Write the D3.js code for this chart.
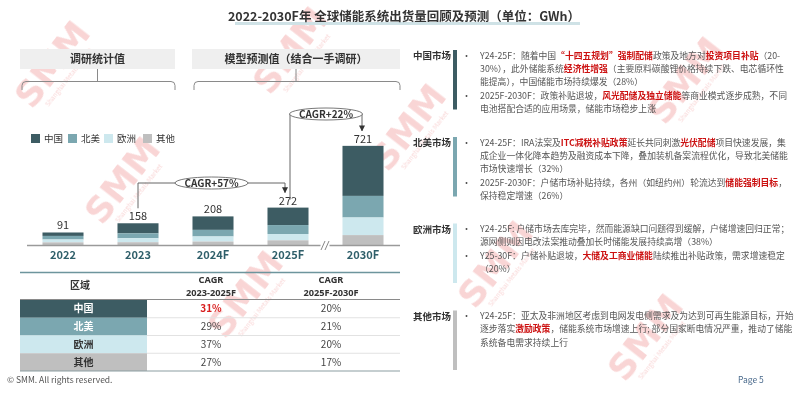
<!DOCTYPE html>
<html><head><meta charset="utf-8">
<script src="https://cdn.jsdelivr.net/npm/d3@7"></script>
<style>
html,body{margin:0;padding:0;background:#fff;}
svg{display:block;font-family:"Noto Sans CJK SC","Noto Sans",sans-serif;}
</style></head>
<body>
<svg id="c" width="800" height="396"></svg>
<script>
// ---------- data ----------
const years = ["2022","2023","2024F","2025F","2030F"];
const regions = ["中国","北美","欧洲","其他"];
const china = [25,73,98,127,364];
const northAmerica = [26,36,48,65,157];
const europe = [21,29,37,46,128];
const others = [19,20,25,34,72];
const totals = [91,158,208,272,721];
const cagrLabels = ["CAGR+57%","CAGR+22%"];
const cagr2325 = ["31%","29%","37%","27%"];
const cagr2530 = ["20%","21%","20%","17%"];
const tableHeader = ["区域","CAGR|2023-2025F","CAGR|2025F-2030F"];
const markets = ["中国市场","北美市场","欧洲市场","其他市场"];
const marketLines = [
 ["•Y24-25F：随着中国[“十四五规划”][强制配储]政策及地方对[投资项目补贴]（20-",
  "30%），此外储能系统[经济性增强]（主要原料碳酸锂价格持续下跌、电芯循环性",
  "能提高），中国储能市场持续爆发（28%）",
  "•2025F-2030F：政策补贴退坡，[风光配储及独立储能]等商业模式逐步成熟，不同",
  "电池搭配合适的应用场景，储能市场稳步上涨"],
 ["•Y24-25F：IRA法案及[ITC减税补贴政策]延长共同刺激[光伏配储]项目快速发展，集",
  "成企业一体化降本趋势及融资成本下降，叠加装机备案流程优化，导致北美储能",
  "市场快速增长（32%）",
  "•2025F-2030F：户储市场补贴持续，各州（如纽约州）轮流达到[储能强制目标]，",
  "保持稳定增速（26%）"],
 ["•Y24-25F: 户储市场去库完毕，然而能源缺口问题得到缓解，户储增速回归正常；",
  "源网侧则因电改法案推动叠加长时储能发展持续高增（38%）",
  "•Y25-30F：户储补贴退坡，[大储及工商业储能]陆续推出补贴政策，需求增速稳定",
  "（20%）"],
 ["•Y24-25F：亚太及非洲地区考虑到电网发电侧需求及为达到可再生能源目标，开始",
  "逐步落实[激励政策]，储能系统市场增速上行; 部分国家断电情况严重，推动了储能",
  "系统备电需求持续上行"]
];
const colors = ["#3d5c63","#7ba7b0","#cde8ee","#bfbfbf"];
const series = [china, northAmerica, europe, others];

const svg = d3.select("#c");

// ---------- watermarks (behind) ----------
const wm = [[62,72],[132,188],[255,302],[418,135],[695,88],[505,272],[655,345],[300,58]];
const wmG = svg.append("g").attr("opacity",0.2);
wm.forEach(([x,y])=>{
  const g = wmG.append("g").attr("transform",`translate(${x},${y}) rotate(-52)`);
  g.append("text").attr("text-anchor","middle").attr("font-size",36).attr("font-weight",900)
   .attr("fill","#e03030").attr("font-family","DejaVu Sans").text("SMM");
  g.append("text").attr("text-anchor","middle").attr("y",11).attr("font-size",6.5)
   .attr("fill","#e03030").text("Shanghai Metals Market");
});

// ---------- title ----------
svg.append("rect").attr("x",235).attr("y",22).attr("width",345).attr("height",3).attr("fill","#cfe2e6");
svg.append("text").attr("x",404).attr("y",21).attr("text-anchor","middle").attr("font-size",12.5)
  .attr("font-weight",700).attr("fill","#333").text("2022-2030F年 全球储能系统出货量回顾及预测（单位：GWh）");

// ---------- headers & brackets ----------
const heads = [["调研统计值",20,175],["模型预测值（结合一手调研）",192,400]];
heads.forEach(([t,x0,x1])=>{
  svg.append("rect").attr("x",x0).attr("y",49).attr("width",x1-x0).attr("height",20).attr("fill","#efefef");
  svg.append("text").attr("x",(x0+x1)/2).attr("y",63).attr("text-anchor","middle").attr("font-size",11)
    .attr("font-weight",700).attr("fill","#333").text(t);
  const cx=(x0+x1)/2, a=x0+2, b=x1;
  svg.append("path").attr("d",`M${cx},69V81.5 M${a},90V85.5Q${a},81.5 ${a+4},81.5H${b-4}Q${b},81.5 ${b},85.5V90`)
    .attr("fill","none").attr("stroke","#8a8a8a").attr("stroke-width",1);
});

// ---------- bar chart ----------
const x = d3.scaleBand().domain(years).range([25.5,400.5]).paddingInner(0.453).paddingOuter(0.2265);
const y = d3.scaleLinear().domain([0,800]).range([245,135]);
const stackData = years.map((yr,i)=>{const o={year:yr}; regions.forEach((r,k)=>o[r]=series[k][i]); return o;});
const stacked = d3.stack().keys(regions).order(d3.stackOrderReverse)(stackData);
const layers = svg.append("g");
stacked.forEach((layer)=>{
  const k = regions.indexOf(layer.key);
  layers.selectAll(null).data(layer).enter().append("rect")
    .attr("x",d=>x(d.data.year)).attr("width",x.bandwidth())
    .attr("y",d=>y(d[1])).attr("height",d=>y(d[0])-y(d[1])).attr("fill",colors[k]);
});
// baseline
svg.append("line").attr("x1",27).attr("x2",400).attr("y1",245.5).attr("y2",245.5).attr("stroke","#9a9a9a").attr("stroke-width",1.5);
// axis break
const bx = (x("2025F")+x.bandwidth()+x("2030F"))/2;
svg.append("rect").attr("x",bx-5).attr("y",240).attr("width",9).attr("height",11).attr("fill","#fff");
[-2.5,1.5].forEach(o=>svg.append("line").attr("x1",bx+o-2).attr("x2",bx+o+2).attr("y1",250).attr("y2",241).attr("stroke","#888").attr("stroke-width",1));
// x labels
const xAxis = svg.append("g").attr("transform","translate(0,245)")
  .call(d3.axisBottom(x).tickSize(0).tickPadding(6));
xAxis.select(".domain").remove();
xAxis.selectAll("text").attr("font-size",11).attr("font-weight",700).attr("fill","#2f5f6a")
  .attr("font-family","'Noto Sans CJK SC','Noto Sans',sans-serif");
// totals
svg.selectAll(null).data(years).enter().append("text")
  .attr("x",d=>x(d)+x.bandwidth()/2).attr("y",(d,i)=>y(totals[i])-3).attr("text-anchor","middle")
  .attr("font-size",11).attr("fill","#333").text((d,i)=>totals[i]);
// legend
const lx=[31,68,104,143];
regions.forEach((r,k)=>{
  svg.append("rect").attr("x",lx[k]).attr("y",134).attr("width",9).attr("height",9).attr("fill",colors[k]);
  svg.append("text").attr("x",lx[k]+13).attr("y",142).attr("font-size",9.5).attr("fill","#333").text(r);
});
// CAGR annotations
svg.append("defs").append("marker").attr("id","ar").attr("viewBox","0 0 10 10").attr("refX",9).attr("refY",5)
  .attr("markerWidth",6).attr("markerHeight",6).attr("orient","auto")
  .append("path").attr("d","M0,0L10,5L0,10z").attr("fill","#333");
function cagrArrow(c0,ys,c1,ye,yl,label){
  svg.append("path").attr("d",`M${c0},${ys}V${yl}H${c1}V${ye}`).attr("fill","none")
    .attr("stroke","#666").attr("stroke-width",1).attr("marker-end","url(#ar)");
  const mx=(c0+c1)/2;
  svg.append("ellipse").attr("cx",mx).attr("cy",yl).attr("rx",36.5).attr("ry",6).attr("fill","#fff").attr("stroke","#555").attr("stroke-width",0.8);
  svg.append("text").attr("x",mx).attr("y",yl+3.5).attr("text-anchor","middle").attr("font-size",10)
    .attr("font-weight",700).attr("fill","#333").text(label);
}
const ctr = d=>x(d)+x.bandwidth()/2;
cagrArrow(ctr("2023"), y(totals[1])-15, ctr("2025F")-3, y(totals[3])-15, 183, cagrLabels[0]);
cagrArrow(ctr("2025F")+2, y(totals[3])-8, ctr("2030F")-1, y(totals[4])-15, 114, cagrLabels[1]);

// ---------- table ----------
const tX0=20, tX1=400, labW=127, cx2=211, cx3=331;
svg.append("line").attr("x1",tX0).attr("x2",tX1).attr("y1",272.5).attr("y2",272.5).attr("stroke","#6d959d").attr("stroke-width",1.5);
svg.append("text").attr("x",80).attr("y",289).attr("text-anchor","middle").attr("font-size",10).attr("font-weight",700).attr("fill","#333").text(tableHeader[0]);
[[cx2,tableHeader[1]],[cx3,tableHeader[2]]].forEach(([cx,t])=>{
  t.split("|").forEach((s,j)=>svg.append("text").attr("x",cx).attr("y",283+j*12.5).attr("text-anchor","middle")
    .attr("font-family","'Noto Sans',sans-serif").attr("font-size",9.2).attr("font-weight",700).attr("fill","#333").text(s));
});
svg.append("line").attr("x1",tX0).attr("x2",tX1).attr("y1",299.5).attr("y2",299.5).attr("stroke","#8a8a8a").attr("stroke-width",1);
const rowY = d3.scaleBand().domain(regions).range([300,371]);
const textCol = ["#fff","#fff","#333","#333"];
regions.forEach((r,k)=>{
  const yy=rowY(r), h=rowY.bandwidth();
  svg.append("rect").attr("x",tX0).attr("y",yy).attr("width",labW).attr("height",h).attr("fill",colors[k]);
  svg.append("text").attr("x",tX0+labW/2).attr("y",yy+h/2+3.5).attr("text-anchor","middle").attr("font-size",10)
    .attr("font-weight",700).attr("fill",textCol[k]).text(r);
  const red = k===0;
  svg.append("text").attr("x",cx2).attr("y",yy+h/2+3.5).attr("text-anchor","middle").attr("font-size",10)
    .attr("font-weight",red?700:400).attr("fill",red?"#d81e1e":"#444").text(cagr2325[k]);
  svg.append("text").attr("x",cx3).attr("y",yy+h/2+3.5).attr("text-anchor","middle").attr("font-size",10)
    .attr("fill","#444").text(cagr2530[k]);
  if(k<3) svg.append("line").attr("x1",tX0+labW).attr("x2",tX1).attr("y1",yy+h).attr("y2",yy+h).attr("stroke","#e2e2e2");
});
svg.append("line").attr("x1",tX0).attr("x2",tX1).attr("y1",371).attr("y2",371).attr("stroke","#8c9ea2").attr("stroke-width",1.2);

// ---------- right panel ----------
const barTop=[50,137,223.5,310.5];
markets.forEach((m,k)=>{
  const t0=barTop[k];
  svg.append("text").attr("x",413).attr("y",t0+9).attr("font-size",9.5).attr("font-weight",700).attr("fill","#333").text(m);
  svg.append("rect").attr("x",453).attr("y",t0).attr("width",4).attr("height",59.5).attr("fill",colors[k]);
  marketLines[k].forEach((ln,j)=>{
    const yy=t0+8.5+j*13.4;
    let s=ln;
    if(s.startsWith("•")){
      svg.append("text").attr("x",462).attr("y",yy).attr("font-size",9).attr("fill","#555").text("•");
      s=s.slice(1);
    }
    const t=svg.append("text").attr("x",480).attr("y",yy).attr("font-size",8.8).attr("fill","#555");
    s.split(/(\[[^\]]*\])/).filter(p=>p.length).forEach(p=>{
      if(p.startsWith("[")) t.append("tspan").attr("fill","#cc1111").attr("font-weight",700).text(p.slice(1,-1));
      else t.append("tspan").text(p);
    });
  });
});

// ---------- footer ----------
svg.append("text").attr("x",7).attr("y",383).attr("font-size",8.5).attr("fill","#555").text("© SMM. All rights reserved.");
svg.append("text").attr("x",738).attr("y",383).attr("font-size",8.5).attr("fill","#4a6a8c").text("Page 5");
</script>
</body></html>
